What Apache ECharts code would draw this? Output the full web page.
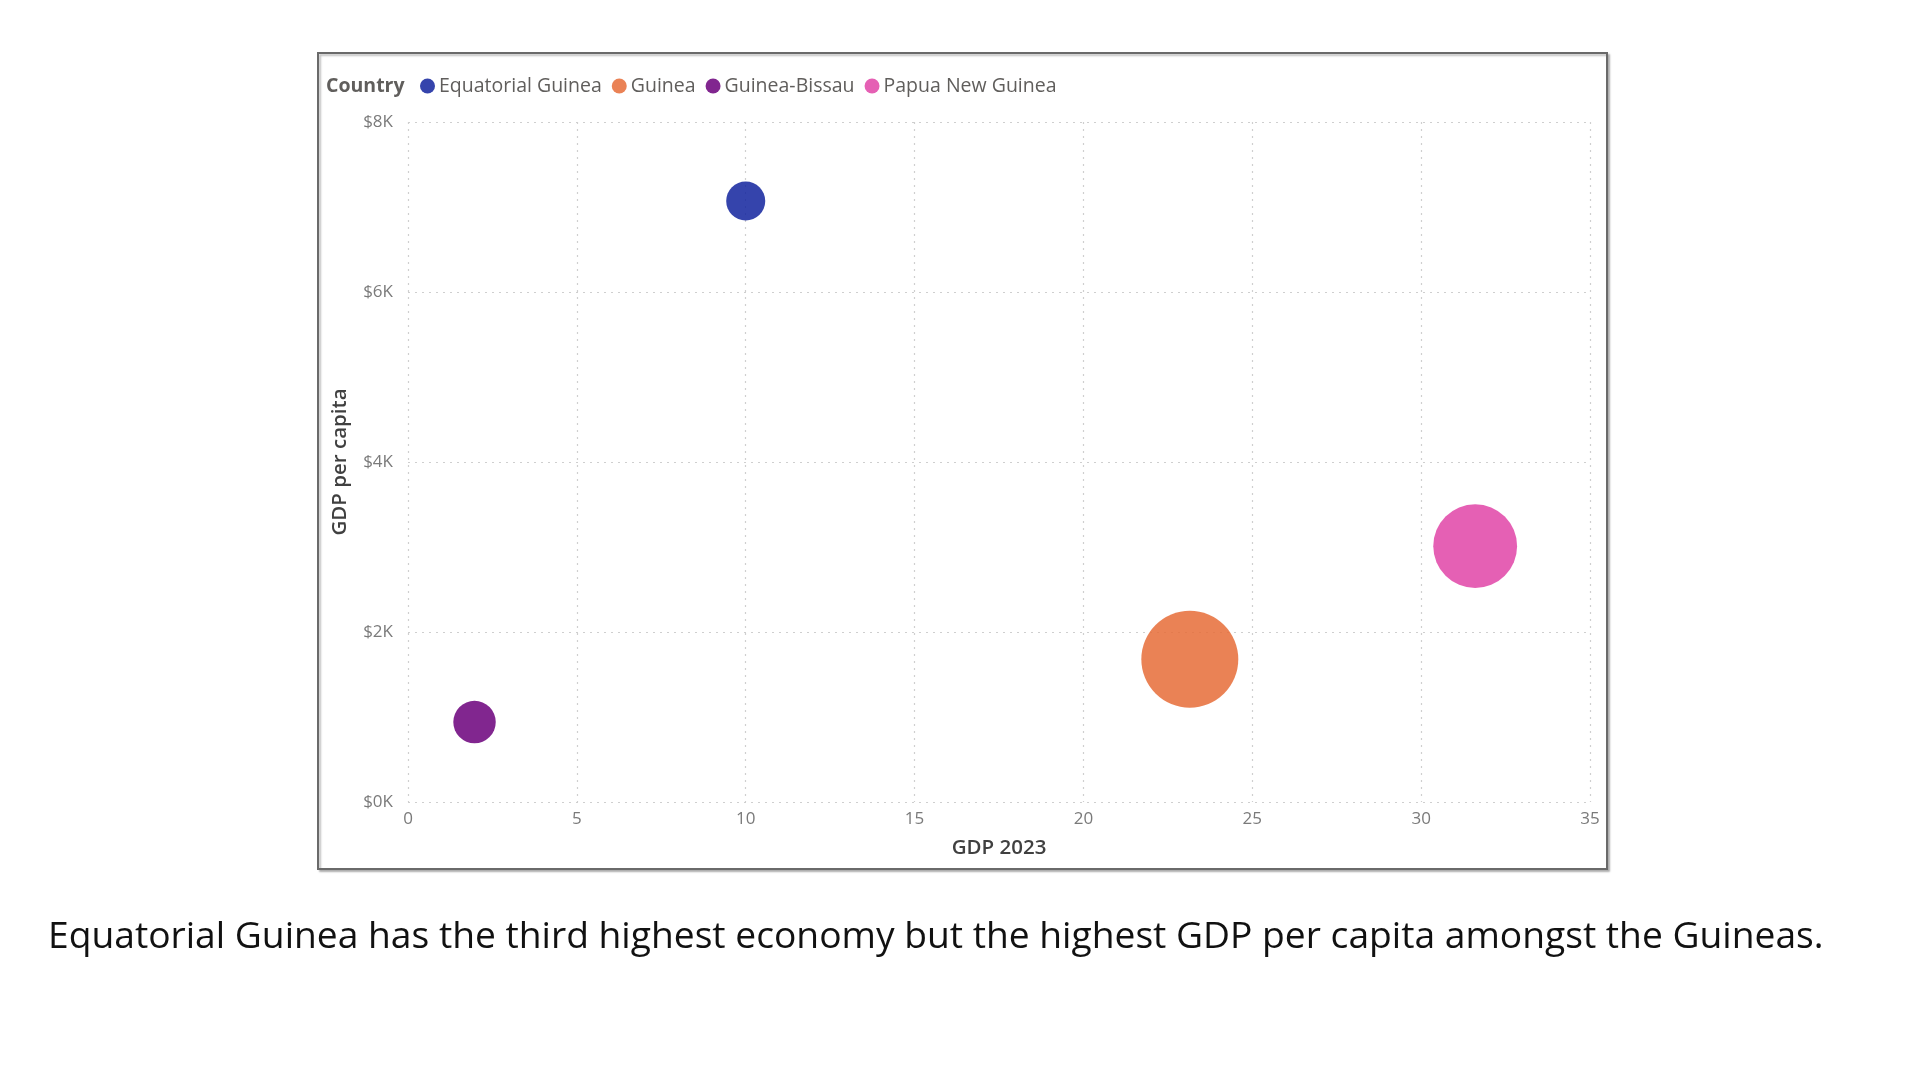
<!DOCTYPE html>
<html>
<head>
<meta charset="utf-8">
<style>
  html, body { margin: 0; padding: 0; background: #ffffff; }
  #chart { width: 1920px; height: 1080px; }
</style>
<script src="https://cdn.jsdelivr.net/npm/echarts@6/dist/echarts.min.js"></script>
</head>
<body>
<div id="chart"></div>
<script>
// ---- data ----
const countries = ['Equatorial Guinea', 'Guinea', 'Guinea-Bissau', 'Papua New Guinea'];
const gdp2023 = [10.0, 23.15, 1.97, 31.6];            // x: GDP 2023 (billions)
const gdpPerCapita = [7070, 1680, 940, 3010];          // y: GDP per capita ($)
const sizeMeasure = [1.7, 14.2, 2.1, 10.3];            // bubble size measure (population, millions)
const colors = ['#12239E', '#E66C37', '#6B007B', '#E044A7'];
const xTicks = { min: 0, max: 35, interval: 5 };
const yTicks = { min: 0, max: 8000, interval: 2000 };
const caption = 'Equatorial Guinea has the third highest economy but the highest GDP per capita amongst the Guineas.';

const chart = echarts.init(document.getElementById('chart'));

function bubbleDiameter(v) { return 8.4 + 23.5 * Math.sqrt(v); }

const series = countries.map((c, i) => ({
  name: c,
  type: 'scatter',
  data: [[gdp2023[i], gdpPerCapita[i], sizeMeasure[i]]],
  symbolSize: d => bubbleDiameter(d[2]),
  itemStyle: { color: colors[i], opacity: 0.85 },
  emphasis: { disabled: true }
}));

const gridLine = { show: true, lineStyle: { color: '#cfcfcf', type: [2, 5], width: 1.2 } };
const tickLabel = { color: '#7a7a7a', fontFamily: 'Open Sans', fontSize: 17 };

chart.setOption({
  backgroundColor: '#ffffff',
  animation: false,
  grid: { left: 408, right: 1920 - 1590, top: 122, bottom: 1080 - 802, containLabel: false },
  legend: {
    left: 420, top: 76, padding: 0,
    icon: 'circle', itemWidth: 15, itemHeight: 15, itemGap: 10,
    textStyle: { color: '#605E5C', fontFamily: 'Open Sans', fontSize: 19.5, lineHeight: 20, padding: [0, 0, 0, -1] },
    data: countries
  },
  color: colors,
  xAxis: {
    type: 'value', min: xTicks.min, max: xTicks.max, interval: xTicks.interval,
    name: 'GDP 2023', nameLocation: 'middle', nameGap: 36,
    nameTextStyle: { color: '#404040', fontFamily: 'Open Sans', fontSize: 20.5, fontWeight: 600 },
    axisLine: { show: false }, axisTick: { show: false },
    axisLabel: Object.assign({ margin: 9 }, tickLabel),
    splitLine: gridLine
  },
  yAxis: {
    type: 'value', min: yTicks.min, max: yTicks.max, interval: yTicks.interval,
    name: 'GDP per capita', nameLocation: 'middle', nameGap: 57,
    nameTextStyle: { color: '#404040', fontFamily: 'Open Sans', fontSize: 20.5, fontWeight: 600 },
    axisLine: { show: false }, axisTick: { show: false },
    axisLabel: Object.assign({ margin: 15, formatter: v => '$' + (v / 1000) + 'K' }, tickLabel),
    splitLine: gridLine
  },
  graphic: [
    {
      type: 'rect', z: -1, silent: true,
      shape: { x: 318, y: 53, width: 1289, height: 816 },
      style: { fill: '#ffffff', stroke: '#6a6a6a', lineWidth: 2,
               shadowColor: 'rgba(0,0,0,0.25)', shadowOffsetX: 2, shadowOffsetY: 2, shadowBlur: 2 }
    },
    {
      type: 'text', x: 326, y: 86, silent: true,
      style: { text: 'Country', fill: '#605E5C', font: 'bold 19.5px "Open Sans"', verticalAlign: 'middle' }
    },
    {
      type: 'text', x: 48, y: 937, silent: true,
      style: { text: caption, fill: '#111111', font: '37.2px "Open Sans"', verticalAlign: 'middle' }
    }
  ],
  series: series
});
</script>
</body>
</html>
